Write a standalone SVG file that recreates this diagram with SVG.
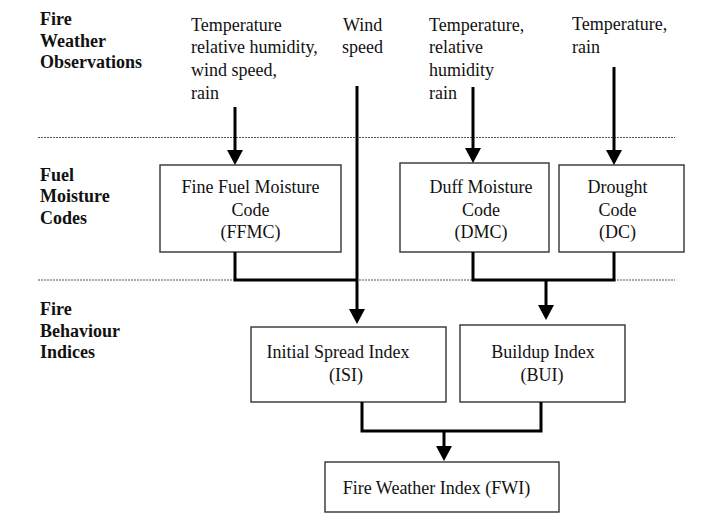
<svg xmlns="http://www.w3.org/2000/svg" width="701" height="517" viewBox="0 0 701 517">
<style>
text{font-family:"Liberation Serif","Times New Roman",serif;font-size:18px;fill:#111}
.h{font-weight:bold}
.m{text-anchor:middle}
.box{fill:#fff;stroke:#333;stroke-width:1.4}
.sep{stroke:#555;stroke-width:1.2;stroke-dasharray:2 1;fill:none}
.con{stroke:#000;stroke-width:3;fill:none}
</style>
<defs>
<marker id="ah" viewBox="0 0 15 16" refX="2" refY="8" markerWidth="15" markerHeight="16" markerUnits="userSpaceOnUse" orient="auto">
<path d="M0,0 L15,8 L0,16 z" fill="#000"/>
</marker>
</defs>
<rect width="701" height="517" fill="#fff"/>
<g id="separators">
<line class="sep" x1="38" y1="137.5" x2="675" y2="137.5"/>
<line class="sep" x1="38" y1="280" x2="675" y2="280"/>
</g>
<g id="section-labels">
<text class="h" x="40" y="25">Fire</text>
<text class="h" x="40" y="47">Weather</text>
<text class="h" x="40" y="68">Observations</text>
<text class="h" x="40" y="181">Fuel</text>
<text class="h" x="40" y="202">Moisture</text>
<text class="h" x="40" y="224">Codes</text>
<text class="h" x="40" y="315">Fire</text>
<text class="h" x="40" y="337">Behaviour</text>
<text class="h" x="40" y="358">Indices</text>
</g>
<g id="inputs">
<text x="191" y="31">Temperature</text>
<text x="191" y="53">relative humidity,</text>
<text x="191" y="76">wind speed,</text>
<text x="191" y="99">rain</text>
<text x="343" y="31">Wind</text>
<text x="342" y="53">speed</text>
<text x="429" y="31">Temperature,</text>
<text x="429" y="53">relative</text>
<text x="429" y="76">humidity</text>
<text x="429" y="99">rain</text>
<text x="572" y="30">Temperature,</text>
<text x="572" y="53">rain</text>
</g>
<g id="ffmc">
<rect class="box" x="160" y="165" width="181" height="87"/>
<text class="m" x="250.5" y="193">Fine Fuel Moisture</text>
<text class="m" x="250.5" y="216">Code</text>
<text class="m" x="250.5" y="238">(FFMC)</text>
</g>
<g id="dmc">
<rect class="box" x="400" y="163" width="149" height="89"/>
<text class="m" x="481" y="193">Duff Moisture</text>
<text class="m" x="481" y="216">Code</text>
<text class="m" x="481" y="238">(DMC)</text>
</g>
<g id="dc">
<rect class="box" x="559" y="165" width="125" height="87"/>
<text class="m" x="617.5" y="193">Drought</text>
<text class="m" x="617.5" y="216">Code</text>
<text class="m" x="617.5" y="238">(DC)</text>
</g>
<g id="isi">
<rect class="box" x="251" y="327" width="195" height="75"/>
<text class="m" x="338" y="358">Initial Spread Index</text>
<text class="m" x="346" y="381">(ISI)</text>
</g>
<g id="bui">
<rect class="box" x="460" y="325" width="165" height="77"/>
<text class="m" x="543" y="358">Buildup Index</text>
<text class="m" x="542" y="381">(BUI)</text>
</g>
<g id="fwi">
<rect class="box" x="325" y="462" width="234" height="50"/>
<text class="m" x="436.5" y="494">Fire Weather Index (FWI)</text>
</g>
<g id="connectors">
<line class="con" x1="235" y1="107" x2="235" y2="152" marker-end="url(#ah)"/>
<line class="con" x1="357" y1="86" x2="357" y2="311" marker-end="url(#ah)"/>
<line class="con" x1="473" y1="87" x2="473" y2="150" marker-end="url(#ah)"/>
<line class="con" x1="614" y1="67" x2="614" y2="152" marker-end="url(#ah)"/>
<path class="con" d="M235,252 V280 H357"/>
<path class="con" d="M473,252 V280 H614 V252"/>
<line class="con" x1="546" y1="280" x2="546" y2="307" marker-end="url(#ah)"/>
<path class="con" d="M362,402 V431 H541 V402"/>
<line class="con" x1="444" y1="431" x2="444" y2="448" marker-end="url(#ah)"/>
</g>
</svg>
